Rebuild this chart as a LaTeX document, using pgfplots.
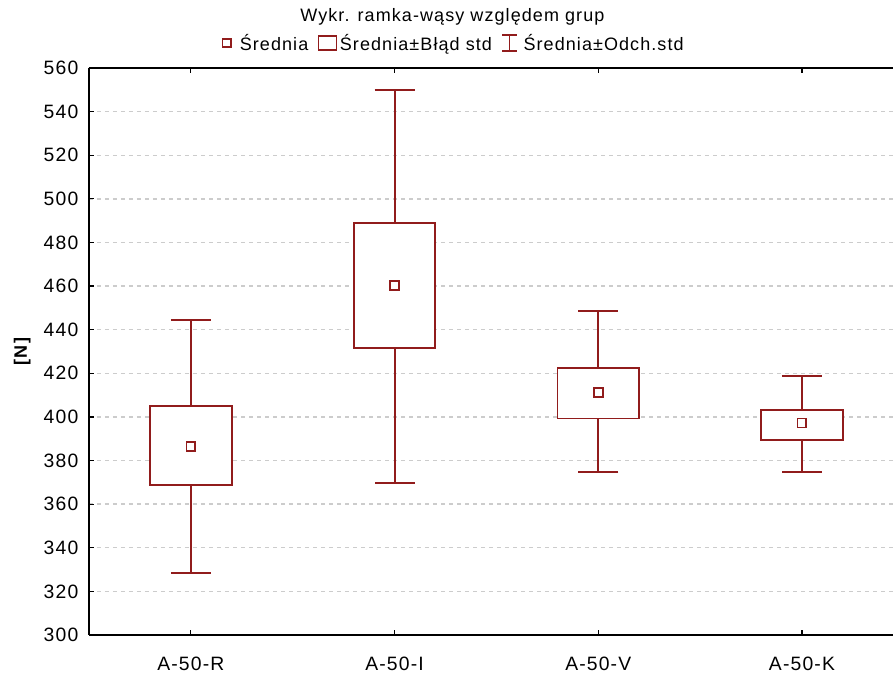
\documentclass[border=0pt]{standalone}
\usepackage{fontspec}
\setmainfont{Liberation Sans}[LetterSpace=6]
\usepackage{pgfplots}
\pgfplotsset{compat=1.18}
\usepackage{pgfplotstable}
\definecolor{sred}{RGB}{145,28,28}

% mean, distance to upper/lower end of whisker (mean +- SD)
\pgfplotstableread{
x mean sdp sdm
0 386.5 58.0 58.1
1 460.2 89.6 90.5
2 411.2 37.2 36.4
3 397.2 21.7 22.4
}\means

\newcommand{\fs}{\fontsize{13.5}{16}\selectfont}
\newcommand{\ft}{\fontsize{14.5}{17}\selectfont}

\begin{document}
\begin{tikzpicture}
\begin{axis}[
  name=ax, at={(0,0)}, anchor=south west,
  scale only axis, width=603pt, height=425.25pt,
  xmin=-0.5, xmax=3.447, ymin=300, ymax=560,
  axis x line*=box, axis y line*=left,
  axis line style={-, line width=1.1pt, black},
  xtick={0,1,2,3},
  xticklabels={A-50-R,A-50-I,A-50-V,A-50-K},
  ytick={300,320,...,560},
  tick align=inside,
  major tick length=4pt,
  tick style={black, line width=0.9pt},
  ymajorgrids,
  grid style={gray!40, line width=1pt, dash pattern=on 3pt off 3pt},
  /pgf/number format/assume math mode=true,
  ticklabel style={font=\ft},
  yticklabel style={xshift=-4.5pt},
  xticklabel style={yshift=-13pt},
  ylabel={[N]},
  every axis y label/.style={at={(axis description cs:-0.083,0.5)}, rotate=90, anchor=center, font=\fs\bfseries},
  title={Wykr. ramka-wąsy względem grup},
  every axis title/.style={at={(axis description cs:0.452,1)}, anchor=center, yshift=38.25pt, font=\fs},
  legend columns=3,
  legend style={at={(axis description cs:0.454,1)}, anchor=center, yshift=18.75pt, draw=none, fill=none, font=\fs,
    /tikz/every even column/.append style={column sep=5pt}},
]
\addlegendimage{legend image code/.code={\draw[sred, line width=1.2pt] (0pt,-3.2pt) rectangle (6.4pt,3.2pt); \path[draw=none, fill=none] (0pt,0pt) -- (11pt,0pt);}}
\addlegendentry{Średnia}
\addlegendimage{legend image code/.code={\draw[sred, line width=1.2pt, fill=white] (0pt,-5.25pt) rectangle (13.5pt,5.25pt);}}
\addlegendentry{Średnia±Błąd std}
\addlegendimage{legend image code/.code={\draw[sred, line width=1.3pt] (0pt,-6pt) -- (11pt,-6pt) (5.5pt,-6pt) -- (5.5pt,6pt) (0pt,6pt) -- (11pt,6pt); \path[draw=none, fill=none] (0pt,0pt) -- (14pt,0pt);}}
\addlegendentry{Średnia±Odch.std}

% whiskers: mean +- standard deviation
\addplot[draw=none, mark=none, forget plot,
  error bars/.cd, y dir=both, y explicit,
  error bar style={sred, line width=1.5pt},
  error mark options={sred, line width=1.5pt, mark size=15pt, rotate=90}]
  table[x=x, y=mean, y error plus=sdp, y error minus=sdm] {\means};

% boxes: mean +- standard error
\addplot[sred, line width=1.4pt, fill=white, forget plot] coordinates {(-0.2,368.8) (0.2,368.8) (0.2,405.2) (-0.2,405.2)} -- cycle;
\addplot[sred, line width=1.4pt, fill=white, forget plot] coordinates {(0.8,431.8) (1.2,431.8) (1.2,488.8) (0.8,488.8)} -- cycle;
\addplot[sred, line width=1.4pt, fill=white, forget plot] coordinates {(1.8,399.3) (2.2,399.3) (2.2,422.6) (1.8,422.6)} -- cycle;
\addplot[sred, line width=1.4pt, fill=white, forget plot] coordinates {(2.8,389.3) (3.2,389.3) (3.2,403.1) (2.8,403.1)} -- cycle;

% means
\addplot[only marks, mark=square, mark size=3.3pt, sred, line width=1.3pt, mark options={fill=white}, forget plot]
  table[x=x, y=mean] {\means};
\end{axis}
\pgfresetboundingbox
\useasboundingbox (-66.75pt,-30pt) rectangle (603pt,476.25pt);
\end{tikzpicture}
\end{document}
